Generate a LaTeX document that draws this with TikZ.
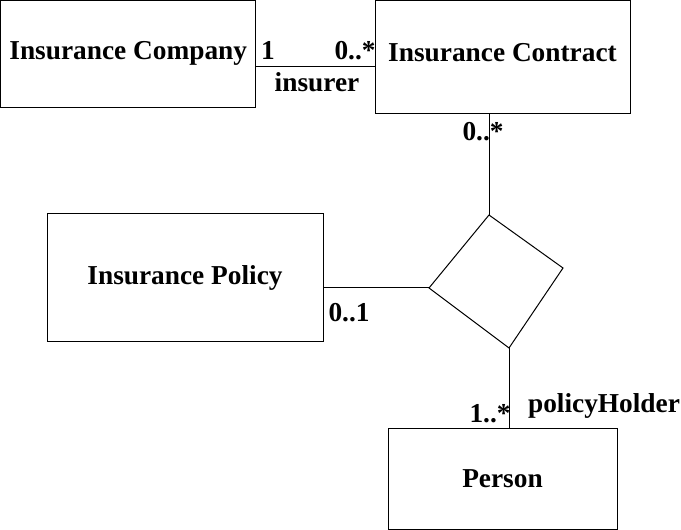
\documentclass[tikz,border=0pt]{standalone}
\usepackage{fontspec}
\setmainfont{Liberation Serif}
\usetikzlibrary{positioning}

\begin{document}
\begin{tikzpicture}[x=0.75pt, y=-0.75pt, auto, inner sep=0pt,
      line width=0.75pt,
      font=\fontsize{20.5}{24}\selectfont\bfseries,
      cls/.style={rectangle, draw},
      lbl/.style={anchor=base}]
      \useasboundingbox (0,0) rectangle (681,530);
      % classes;
      \node[cls, minimum width=191.6pt, minimum height=79.9pt](company) at(128.25,53.75) {Insurance Company};
      \node[cls, minimum width=191.25pt, minimum height=85.1pt, text depth=7.5pt](contract) at(502.5,57.25) {Insurance Contract};
      \node[cls, minimum width=207pt, minimum height=96pt](policy) at(185,278) {Insurance Policy};
      \node[cls, minimum width=171.75pt, minimum height=75.75pt](person) at(502.5,478.5) {Person};
      % insurer association;
      \coordinate (ins) at(300,67);
      \path (ins -| company.east) edge (ins -| contract.west);
      \node[lbl](c_1) at(268,60) {1};
      \node[lbl](c_many) at(355,60) {0..*};
      \node[lbl](insurer) at(317,92) {insurer};
      % ternary diamond;
      \coordinate (d_top) at(489,215);
      \coordinate (d_right) at(563,268);
      \coordinate (d_bot) at(509,348);
      \coordinate (d_left) at(429,288);
      \draw (d_top) -- (d_right) -- (d_bot) -- (d_left) -- cycle;
      \path (d_top) edge (d_top |- contract.south);
      \path (d_left) edge (d_left -| policy.east);
      \path (d_bot) edge (d_bot |- person.north);
      % multiplicities;
      \node[lbl](ct_many) at(483,141) {0..*};
      \node[lbl](pol_opt) at(349,322) {0..1};
      \node[lbl](per_many) at(490,422) {1..*};
      \node[lbl](holder) at(604,412) {policyHolder};
\end{tikzpicture}
\end{document}
